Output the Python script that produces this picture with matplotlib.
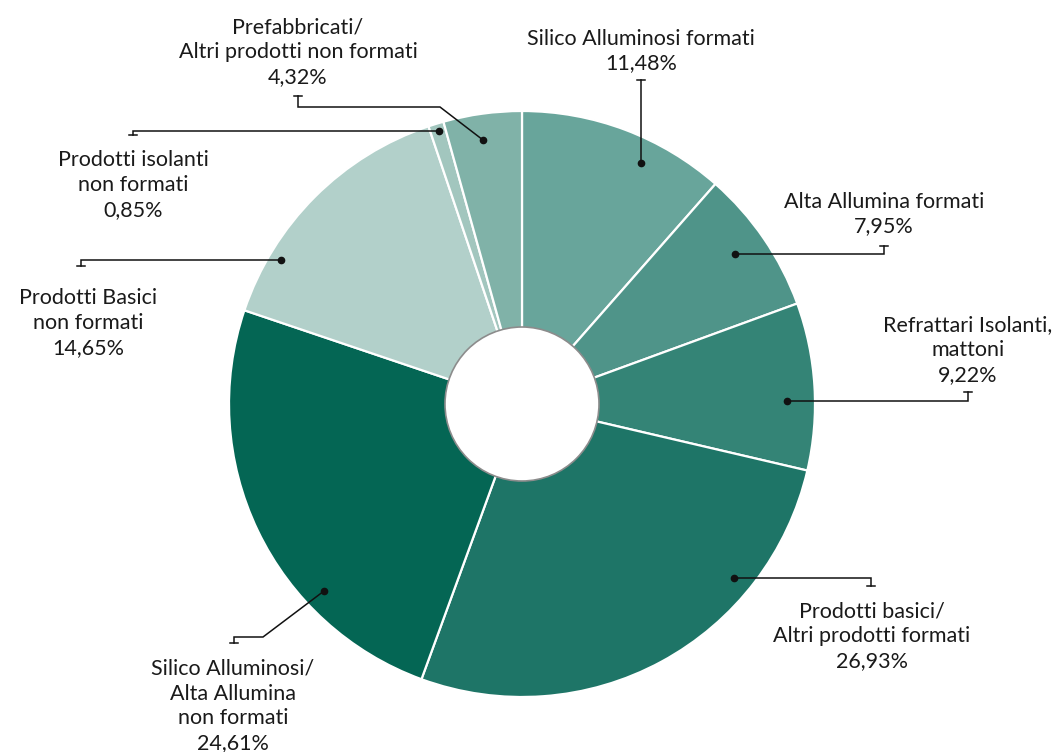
import matplotlib
matplotlib.use("Agg")
import matplotlib.pyplot as plt
from matplotlib.patches import Circle

# ── data (clockwise from 12 o'clock) ── #
labels = [
    "Silico Alluminosi formati",
    "Alta Allumina formati",
    "Refrattari Isolanti,\nmattoni",
    "Prodotti basici/\nAltri prodotti formati",
    "Silico Alluminosi/\nAlta Allumina\nnon formati",
    "Prodotti Basici\nnon formati",
    "Prodotti isolanti\nnon formati",
    "Prefabbricati/\nAltri prodotti non formati",
]
values = [11.48, 7.95, 9.22, 26.93, 24.61, 14.65, 0.85, 4.32]
colors = ["#68A59B", "#4F9489", "#348476", "#1E7567",
          "#046654", "#B2D0CA", "#A2C6BE", "#80B2A8"]

# ── layout (pixel space, y down) ── #
CENTER = (522, 404)
RADIUS = 293
HOLE = 77
# text centre, leader path from dot to cap
text_pos = [(641, 51), (884, 214), (968, 350), (872, 636),
            (233, 706), (88, 323), (133, 185), (298, 52)]
leaders = [
    [(641, 163), (641, 80)],
    [(735, 254), (884, 254), (884, 246)],
    [(787, 401), (968, 401), (968, 392)],
    [(734, 578), (871, 578), (871, 586)],
    [(324, 591), (263, 637), (234, 637), (234, 643)],
    [(281, 260), (81, 260), (81, 266)],
    [(439, 131), (133, 131), (133, 135)],
    [(483, 140), (440, 107), (298, 107), (298, 96)],
]

plt.rcParams["font.family"] = ["Lato", "DejaVu Sans"]

fig = plt.figure(figsize=(10.57, 7.52), dpi=100)
ax = fig.add_axes([0, 0, 1, 1])

# y axis is inverted, so counterclock=True reads clockwise on screen
ax.pie(values, colors=colors, startangle=-90, counterclock=True,
       center=CENTER, radius=RADIUS, frame=True,
       wedgeprops=dict(edgecolor="white", linewidth=1.6))
ax.set_xlim(0, 1057)
ax.set_ylim(752, 0)
ax.axis("off")
ax.add_patch(Circle(CENTER, HOLE, facecolor="white",
                    edgecolor="#8c8c8c", linewidth=1.2, zorder=5))

for lab, val, (tx, ty), path in zip(labels, values, text_pos, leaders):
    txt = f"{lab}\n{val:.2f}%".replace(".", ",")
    ax.text(tx, ty, txt, ha="center", va="center", fontsize=15.5,
            color="#1a1a1a", linespacing=1.3, zorder=6)
    xs = [p[0] for p in path]
    ys = [p[1] for p in path]
    ax.plot(xs, ys, color="#111111", linewidth=1.1, zorder=6,
            solid_joinstyle="miter")
    ax.plot(xs[0], ys[0], "o", color="#111111", markersize=4.5, zorder=7)
    ex, ey = path[-1]
    ax.plot([ex - 4, ex + 4], [ey, ey], color="#111111",
            linewidth=1.1, zorder=6)

fig.savefig("out.png", dpi=100)
